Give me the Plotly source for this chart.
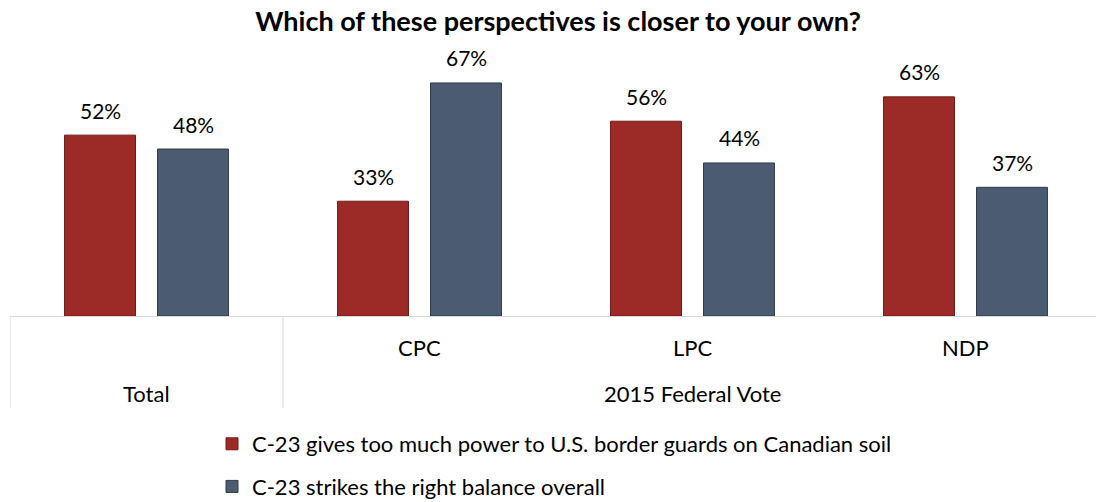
import plotly.graph_objects as go

categories = ["Total", "CPC", "LPC", "NDP"]
inner_labels = ["", "CPC", "LPC", "NDP"]
outer_labels = ["Total", "2015 Federal Vote"]
outer_positions = [0, 2]
series_names = [
    "C-23 gives too much power to U.S. border guards on Canadian soil",
    "C-23 strikes the right balance overall",
]
too_much_power = [52, 33, 56, 63]
right_balance = [48, 67, 44, 37]

FONT = "Lato, Carlito, Calibri, sans-serif"
RED = "#9C2B27"
BLUE = "#4B5B72"
TXT = 22

PLOT_L, PLOT_T, PLOT_H = 10, 60, 256
UNIT = 273.0  # px per category

fig = go.Figure()
for name, vals, col, edge, grp in [
    (series_names[0], too_much_power, RED, "#6E1A17", "a"),
    (series_names[1], right_balance, BLUE, "#2F3A4A", "b"),
]:
    fig.add_trace(go.Bar(
        x=categories, y=vals, name=name, legendgroup=grp,
        marker=dict(color=col, line=dict(color=edge, width=1)),
        hoverinfo="skip",
    ))

annotations = []
for vals, shift in [(too_much_power, -46.5), (right_balance, 46.5)]:
    for c, v in zip(categories, vals):
        annotations.append(dict(
            x=c, y=v, xref="x", yref="y", text=f"{v}%", showarrow=False,
            xshift=shift, yshift=25, yanchor="middle",
            font=dict(family=FONT, size=21, color="#000000"),
        ))
for c, lab in zip(categories, inner_labels):
    if lab:
        annotations.append(dict(
            x=c, y=0, xref="x", yref="paper", text=lab, showarrow=False,
            yshift=-31, yanchor="middle",
            font=dict(family=FONT, size=TXT, color="#000000"),
        ))
for p, lab in zip(outer_positions, outer_labels):
    annotations.append(dict(
        x=p, y=0, xref="x", yref="paper", text=lab, showarrow=False,
        yshift=-77, yanchor="middle",
        font=dict(family=FONT, size=TXT, color="#000000"),
    ))

shapes = []
for xv in [-0.5, 0.5]:
    shapes.append(dict(
        type="line", xref="x", yref="paper", x0=xv, x1=xv, y0=0, y1=-92 / PLOT_H,
        line=dict(color="#D9D9D9", width=1),
    ))

plot_w = 1096 - PLOT_L
fig.update_layout(
    width=1096, height=502,
    margin=dict(l=PLOT_L, r=0, t=PLOT_T, b=502 - PLOT_T - PLOT_H, autoexpand=False),
    paper_bgcolor="white", plot_bgcolor="white",
    title=dict(
        text="<b>Which of these perspectives is closer to your own?</b>",
        x=558 / 1096, xanchor="center", y=1 - 22 / 502, yanchor="middle",
        yref="container", font=dict(family=FONT, size=27, color="#000000"),
    ),
    barmode="group", bargap=0.319, bargroupgap=0.237,
    xaxis=dict(
        type="category", range=[-0.5, -0.5 + plot_w / UNIT], showticklabels=False,
        showline=True, linecolor="#D9D9D9", linewidth=1, showgrid=False,
        ticks="", zeroline=False, fixedrange=True,
    ),
    yaxis=dict(range=[0, 73.6], visible=False, fixedrange=True),
    legend=dict(
        x=(212 - PLOT_L) / plot_w, xanchor="left", y=-107 / PLOT_H, yanchor="top",
        orientation="v", tracegroupgap=11,
        font=dict(family=FONT, size=22, color="#000000"),
        itemwidth=30,
    ),
    annotations=annotations,
    shapes=shapes,
    showlegend=True,
)

fig.write_html(
    "out.html",
    config={"displayModeBar": False},
    post_script="document.body.style.margin='0';document.body.style.overflow='hidden';",
)
